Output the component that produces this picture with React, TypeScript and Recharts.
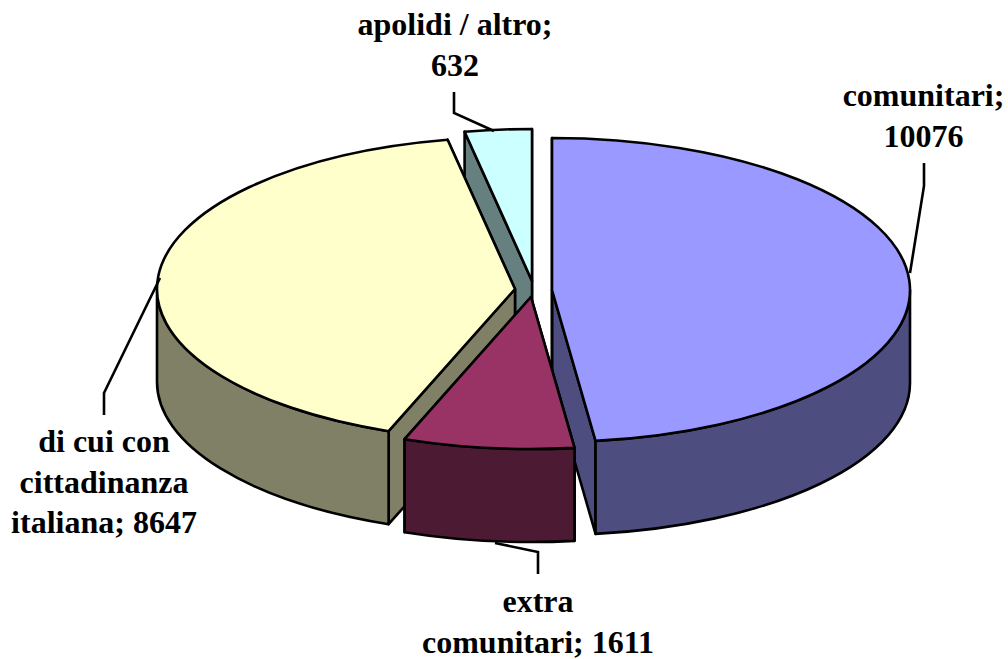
import { PieChart, Pie } from 'recharts';

// #region Sample data (listed so that the slices paint back to front)
const names = ['comunitari', 'apolidi / altro', 'di cui con cittadinanza italiana', 'extra comunitari'];
const values = [10076, 632, 8647, 1611];
const labelRows = [
  ['comunitari;', '10076'],
  ['apolidi / altro;', '632'],
  ['di cui con', 'cittadinanza', 'italiana; 8647'],
  ['extra', 'comunitari; 1611'],
];
// #endregion

const topColors = ['#9999FF', '#CCFFFF', '#FFFFCC', '#993366'];
const sideColors = ['#4D4D80', '#668080', '#808066', '#4D1A33'];

const WIDTH = 1008;
const HEIGHT = 659;
const CX = 532;
const CY = 290;
const RADIUS = 358;
const TILT = 152 / 358;
const DEPTH = 93;

// how far each slice is pulled out of the pie
const explode = [
  { x: 20, y: 0 },
  { x: 0, y: -9 },
  { x: -17, y: -1 },
  { x: -1, y: 7 },
];

const labelPos = [
  { x: 923.5, y: 106 },
  { x: 455, y: 35 },
  { x: 104, y: 452 },
  { x: 538, y: 612 },
];
const leaders = [
  '924,163 924,186 910,273',
  '454,92 454,113 494,131',
  '160,278 104,393 104,415',
  '495,543 538,552 538,574',
];

const chartData = names.map((name, i) => ({ name, value: values[i], idx: i }));
const total = values.reduce((a, b) => a + b, 0);
const startAngle = 90 - (360 * values[0]) / total;

const rad = (a: number) => (a * Math.PI) / 180;

const Slice3D = (props: any) => {
  const { startAngle: a0, endAngle: a1, cx, cy, outerRadius, payload } = props;
  const i = payload.idx;
  const x0 = cx + explode[i].x;
  const y0 = cy + explode[i].y;
  const rx = outerRadius;
  const ry = outerRadius * TILT;
  const px = (a: number) => x0 + rx * Math.cos(rad(a));
  const py = (a: number) => y0 - ry * Math.sin(rad(a));
  const arc = (from: number, to: number, dy: number) => {
    const large = to - from > 180 ? 1 : 0;
    return `A ${rx} ${ry} 0 ${large} 0 ${px(to)} ${py(to) + dy}`;
  };
  const cut = (a: number) =>
    `M ${x0} ${y0} L ${px(a)} ${py(a)} L ${px(a)} ${py(a) + DEPTH} L ${x0} ${y0 + DEPTH} Z`;

  // only the part of the rim facing the viewer has a wall
  const walls: string[] = [];
  for (const [lo, hi] of [[-180, 0], [180, 360]]) {
    const from = Math.max(a0, lo);
    const to = Math.min(a1, hi);
    if (to > from) {
      walls.push(
        `M ${px(from)} ${py(from)} ${arc(from, to, 0)} L ${px(to)} ${py(to) + DEPTH} ` +
          `A ${rx} ${ry} 0 ${to - from > 180 ? 1 : 0} 1 ${px(from)} ${py(from) + DEPTH} Z`,
      );
    }
  }
  const top = `M ${x0} ${y0} L ${px(a0)} ${py(a0)} ${arc(a0, a1, 0)} Z`;

  return (
    <g stroke="#000" strokeWidth={2.6} strokeLinejoin="round">
      <path d={cut(a0)} fill={sideColors[i]} />
      <path d={cut(a1)} fill={sideColors[i]} />
      {walls.map((d) => (
        <path key={d} d={d} fill={sideColors[i]} />
      ))}
      <path d={top} fill={topColors[i]} />
    </g>
  );
};

const renderLabel = (props: any) => {
  const i = props.payload?.idx ?? props.idx ?? props.index;
  return (
    <g>
      <polyline points={leaders[i]} fill="none" stroke="#000" strokeWidth={2.6} />
      <text
        x={labelPos[i].x}
        y={labelPos[i].y}
        textAnchor="middle"
        fontFamily="'Liberation Serif', serif"
        fontWeight="bold"
        fontSize={32}
        fill="#000"
      >
        {labelRows[i].map((row, r) => (
          <tspan key={row} x={labelPos[i].x} dy={r === 0 ? 0 : 40.5}>
            {row}
          </tspan>
        ))}
      </text>
    </g>
  );
};

const App = () => {
  return (
    <div style={{ position: 'absolute', left: 0, top: 0, width: WIDTH, height: HEIGHT, background: '#fff' }}>
      <PieChart width={WIDTH} height={HEIGHT} margin={{ top: 0, right: 0, bottom: 0, left: 0 }}>
        <Pie
          data={chartData}
          dataKey="value"
          nameKey="name"
          cx={CX}
          cy={CY}
          innerRadius={0}
          outerRadius={RADIUS}
          startAngle={startAngle}
          endAngle={startAngle + 360}
          shape={Slice3D}
          label={renderLabel}
          labelLine={false}
          isAnimationActive={false}
        />
      </PieChart>
    </div>
  );
};

export default App;
